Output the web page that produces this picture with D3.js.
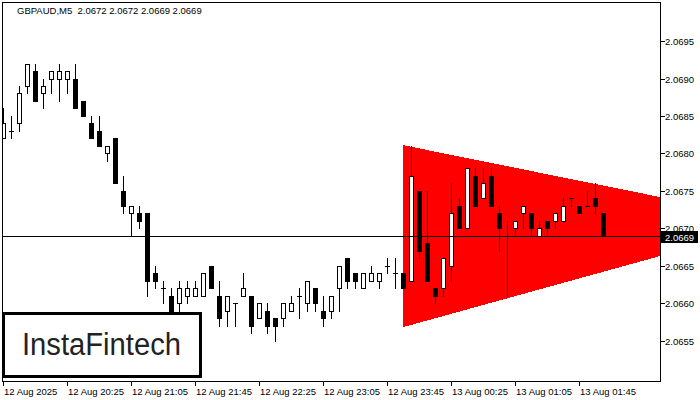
<!DOCTYPE html>
<html>
<head>
<meta charset="utf-8">
<script src="https://cdn.jsdelivr.net/npm/d3@7"></script>
<style>
  html, body { margin: 0; padding: 0; background: #fff; }
  svg { display: block; }
  text { font-family: "Liberation Sans", Arial, sans-serif; }
</style>
</head>
<body>
<svg id="chart" width="700" height="400"></svg>
<script>
// ---- data (GBPAUD, M5) ----
const symbolTitle = "GBPAUD,M5  2.0672 2.0672 2.0669 2.0669";
const barIndex = d3.range(76);
const opens = [
  2.0682,2.0683,2.0684,2.0689,2.0691,2.0688,2.0690,2.0690,2.0690,2.0690,
  2.0687,2.0684,2.0683,2.0680,2.0682,2.0675,2.0672,2.0672,2.0672,2.0664,
  2.0662,2.0661,2.0660,2.0661,2.0661,2.0661,2.0665,2.0661,2.0659,2.0660,
  2.0661,2.0661,2.0658,2.0659,2.0658,2.0658,2.0659,2.0661,2.0660,2.0662,
  2.0659,2.0659,2.0662,2.0666,2.0664,2.0662,2.0663,2.0663,2.0665,2.0664,
  2.0664,2.0663,2.0675,2.0668,2.0662,2.0662,2.0665,2.0673,2.0670,2.0677,
  2.0674,2.0677,2.0672,2.0669,2.0670,2.0672,2.0672,2.0669,2.0671,2.0671,
  2.0671,2.0674,2.0673,2.0673,2.0674,2.0672
];
const highs = [
  2.0686,2.0685,2.0689,2.0692,2.0692,2.0690,2.0691,2.0692,2.0691,2.0692,
  2.0687,2.0685,2.0685,2.0681,2.0682,2.0677,2.0673,2.0673,2.0672,2.0665,
  2.0663,2.0662,2.0663,2.0663,2.0663,2.0664,2.0665,2.0663,2.0661,2.0660,
  2.0664,2.0661,2.0660,2.0660,2.0658,2.0660,2.0661,2.0662,2.0663,2.0662,
  2.0661,2.0661,2.0665,2.0666,2.0664,2.0664,2.0665,2.0664,2.0666,2.0666,
  2.0664,2.0681,2.0675,2.0675,2.0662,2.0666,2.0676,2.0674,2.0678,2.0678,
  2.0678,2.0678,2.0673,2.0671,2.0671,2.0673,2.0672,2.0671,2.0671,2.0672,
  2.0674,2.0674,2.0673,2.0675,2.0676,2.0672
];
const lows = [
  2.0682,2.0682,2.0683,2.0688,2.0687,2.0686,2.0688,2.0687,2.0688,2.0686,
  2.0685,2.0682,2.0681,2.0679,2.0676,2.0672,2.0669,2.0670,2.0661,2.0662,
  2.0660,2.0659,2.0659,2.0660,2.0661,2.0661,2.0662,2.0657,2.0657,2.0657,
  2.0661,2.0656,2.0658,2.0656,2.0655,2.0657,2.0659,2.0658,2.0659,2.0659,
  2.0657,2.0658,2.0659,2.0662,2.0662,2.0662,2.0663,2.0662,2.0664,2.0662,
  2.0662,2.0663,2.0666,2.0663,2.0660,2.0661,2.0663,2.0670,2.0670,2.0673,
  2.0674,2.0673,2.0667,2.0661,2.0669,2.0670,2.0669,2.0669,2.0669,2.0670,
  2.0671,2.0673,2.0672,2.0673,2.0672,2.0669
];
const closes = [
  2.0684,2.0683,2.0688,2.0692,2.0687,2.0689,2.0691,2.0691,2.0691,2.0686,
  2.0685,2.0682,2.0681,2.0681,2.0676,2.0673,2.0673,2.0671,2.0663,2.0663,
  2.0662,2.0659,2.0662,2.0662,2.0662,2.0664,2.0662,2.0658,2.0661,2.0660,
  2.0662,2.0657,2.0660,2.0657,2.0657,2.0660,2.0660,2.0661,2.0663,2.0660,
  2.0658,2.0661,2.0665,2.0663,2.0663,2.0664,2.0664,2.0664,2.0665,2.0664,
  2.0662,2.0677,2.0667,2.0663,2.0661,2.0666,2.0672,2.0670,2.0678,2.0673,
  2.0676,2.0673,2.0670,2.0669,2.0671,2.0673,2.0670,2.0670,2.0670,2.0672,
  2.0673,2.0674,2.0672,2.0673,2.0673,2.0669
];
const timeTickBars = [0, 8, 16, 24, 32, 40, 48, 56, 64, 72];
const timeTickLabels = ["12 Aug 2025","12 Aug 20:25","12 Aug 21:05","12 Aug 21:45","12 Aug 22:25",
                        "12 Aug 23:05","12 Aug 23:45","13 Aug 00:25","13 Aug 01:05","13 Aug 01:45"];
const priceTicks = [2.0655, 2.0660, 2.0665, 2.0670, 2.0675, 2.0680, 2.0685, 2.0690, 2.0695];
const currentPrice = 2.0669;
// triangle pattern (bar index, price)
const triBars = [50, 50, 97.54];
const triPrices = [2.06811, 2.06568, 2.067085];
const logoText = "InstaFintech";

// ---- layout ----
const L = 2, R = 660, T = 2, B = 381;
const svg = d3.select("#chart");
const x = d3.scaleLinear().domain([-0.125, 82.125]).range([L, R]);
const y = d3.scaleLinear().domain([2.0670 - (B - 228.3) / 74900, 2.0670 + (228.3 - T) / 74900]).range([B, T]);
const py = p => Math.round(y(p));
const px = i => Math.round(x(i));

svg.append("defs").append("clipPath").attr("id", "plotclip")
  .append("rect").attr("x", L).attr("y", T).attr("width", R - L).attr("height", B - T);

const plot = svg.append("g").attr("clip-path", "url(#plotclip)");

// triangle
plot.append("path")
  .attr("d", d3.line()(triBars.map((b, k) => [x(b), y(triPrices[k])])) + "Z")
  .attr("fill", "#ff0000")
  .attr("shape-rendering", "crispEdges");

// candles
const candles = plot.append("g").attr("shape-rendering", "crispEdges");
barIndex.forEach(i => {
  const c = px(i);
  const yh = py(highs[i]), yl = py(lows[i]);
  const yo = py(opens[i]), yc = py(closes[i]);
  const top = Math.min(yo, yc), bot = Math.max(yo, yc);
  candles.append("rect").attr("x", c).attr("y", yh).attr("width", 1).attr("height", yl - yh + 1).attr("fill", "#000");
  if (closes[i] > opens[i]) {
    candles.append("rect").attr("x", c - 2 + 0.5).attr("y", top + 0.5)
      .attr("width", 4).attr("height", bot - top)
      .attr("fill", "#fff").attr("stroke", "#000").attr("stroke-width", 1);
  } else if (closes[i] < opens[i]) {
    candles.append("rect").attr("x", c - 2).attr("y", top)
      .attr("width", 5).attr("height", bot - top + 1).attr("fill", "#000");
  } else {
    candles.append("rect").attr("x", c - 2).attr("y", top)
      .attr("width", 5).attr("height", 1).attr("fill", "#000");
  }
});

// current price line
plot.append("rect").attr("x", L).attr("y", py(currentPrice)).attr("width", R - L).attr("height", 1)
  .attr("fill", "#000").attr("shape-rendering", "crispEdges");

// frame
svg.append("rect").attr("x", L + 0.5).attr("y", T + 0.5).attr("width", R - L).attr("height", B - T)
  .attr("fill", "none").attr("stroke", "#000").attr("stroke-width", 1).attr("shape-rendering", "crispEdges");

// price axis
const yAxis = svg.append("g").attr("font-size", "9.5px");
priceTicks.forEach(p => {
  const yy = py(p);
  yAxis.append("rect").attr("x", R + 1).attr("y", yy).attr("width", 4).attr("height", 1).attr("fill", "#000");
  yAxis.append("text").attr("x", 665).attr("y", yy + 3.5).attr("fill", "#000").text(d3.format(".4f")(p));
});
// current price label
const cpY = py(currentPrice);
svg.append("rect").attr("x", R + 1).attr("y", cpY - 5).attr("width", 37).attr("height", 12).attr("fill", "#000");
svg.append("text").attr("x", 665).attr("y", cpY + 4.5).attr("font-size", "9.5px").attr("fill", "#fff")
  .text(d3.format(".4f")(currentPrice));

// time axis
const xAxis = svg.append("g").attr("font-size", "9.5px");
timeTickBars.forEach((b, k) => {
  const xx = px(b);
  xAxis.append("rect").attr("x", xx).attr("y", B + 1).attr("width", 1).attr("height", 4).attr("fill", "#000");
  xAxis.append("text").attr("x", xx + 1).attr("y", 395).attr("fill", "#000").text(timeTickLabels[k]);
});

// title
svg.append("text").attr("x", 17).attr("y", 13.5).attr("font-size", "9.5px").attr("fill", "#000")
  .attr("xml:space", "preserve").style("white-space", "pre").text(symbolTitle);

// logo
svg.append("rect").attr("x", 3.5).attr("y", 313.5).attr("width", 197).attr("height", 63)
  .attr("fill", "#fff").attr("stroke", "#000").attr("stroke-width", 3);
svg.append("text").attr("x", 22).attr("y", 355)
  .attr("font-family", "Inter, 'Open Sans', sans-serif").attr("font-weight", 500)
  .attr("font-size", "31px").attr("fill", "#222")
  .attr("textLength", 159).attr("lengthAdjust", "spacingAndGlyphs")
  .text(logoText);
</script>
</body>
</html>
